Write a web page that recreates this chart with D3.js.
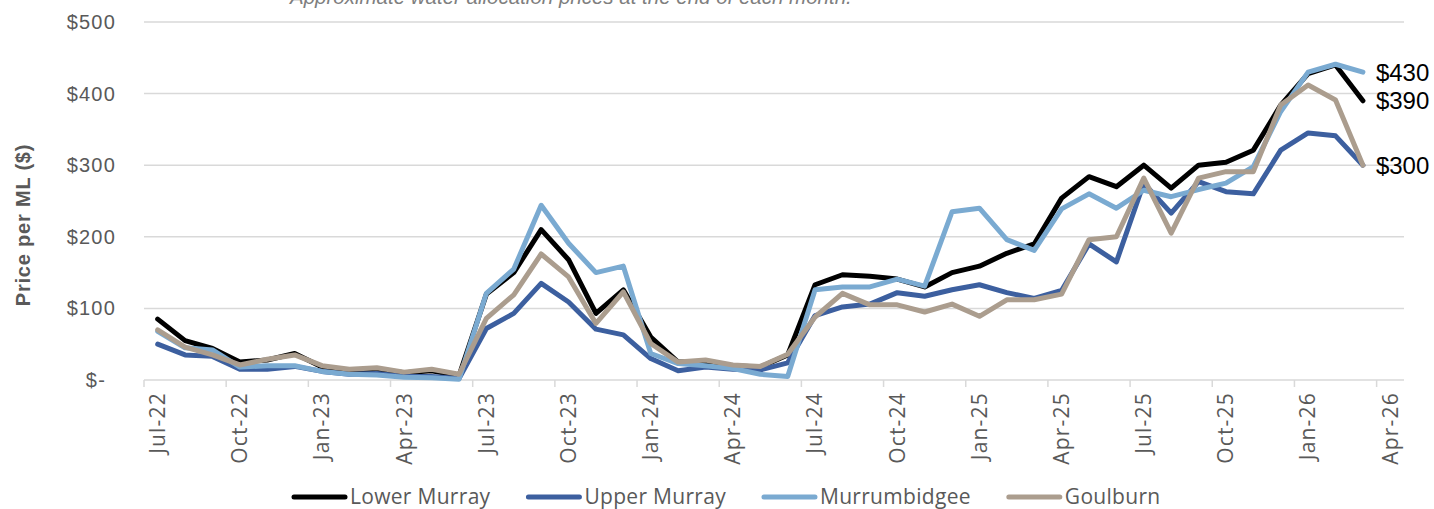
<!DOCTYPE html>
<html>
<head>
<meta charset="utf-8">
<script src="https://cdnjs.cloudflare.com/ajax/libs/d3/7.8.5/d3.min.js"></script>
<style>
  body { margin: 0; background: #fff; }
  svg { display: block; }
</style>
</head>
<body>
<div id="chart"></div>
<script>
var months = ["Jul-22","Aug-22","Sep-22","Oct-22","Nov-22","Dec-22",
  "Jan-23","Feb-23","Mar-23","Apr-23","May-23","Jun-23",
  "Jul-23","Aug-23","Sep-23","Oct-23","Nov-23","Dec-23",
  "Jan-24","Feb-24","Mar-24","Apr-24","May-24","Jun-24",
  "Jul-24","Aug-24","Sep-24","Oct-24","Nov-24","Dec-24",
  "Jan-25","Feb-25","Mar-25","Apr-25","May-25","Jun-25",
  "Jul-25","Aug-25","Sep-25","Oct-25","Nov-25","Dec-25",
  "Jan-26","Feb-26","Mar-26","Apr-26"];

var tickLabels = ["Jul-22","Oct-22","Jan-23","Apr-23","Jul-23","Oct-23","Jan-24","Apr-24",
  "Jul-24","Oct-24","Jan-25","Apr-25","Jul-25","Oct-25","Jan-26","Apr-26"];

var yTicks = [0, 100, 200, 300, 400, 500];

var seriesNames = ["Lower Murray", "Upper Murray", "Murrumbidgee", "Goulburn"];

var lowerMurray = [85,55,44,25,28,37, 18,14,15,10,13,6, 120,150,210,168,93,126,
  60,25,25,20,18,35, 133,147,145,141,130,150, 159,177,190,254,284,270,
  300,268,300,304,321,384, 428,440,390];
var upperMurray = [50,35,33,15,15,19, 12,8,9,5,5,2, 72,93,135,109,71,63,
  30,13,18,15,14,24, 90,102,106,122,117,126, 133,122,114,125,190,165,
  275,233,277,263,260,321, 345,341,300];
var murrumbidgee = [68,45,42,18,20,20, 12,8,7,4,3,1, 121,155,244,191,150,159,
  37,23,20,16,8,5, 126,130,130,141,131,235, 240,196,181,239,260,240,
  265,256,266,275,298,375, 430,441,430];
var goulburn = [70,46,35,21,29,35, 20,15,17,11,15,8, 86,119,176,144,79,123,
  51,25,28,21,19,36, 88,121,105,105,95,106, 89,112,112,120,196,200,
  282,205,282,291,291,384, 412,391,300];

// which series get a value label at the end of the line
var endLabels = ["Murrumbidgee", "Lower Murray", "Goulburn"];

var colors = ["#000000", "#3c5f9f", "#7aaad1", "#ab9d8e"];

var width = 1434, height = 509;
var margin = {top: 22, right: 30, bottom: 129, left: 144};

var series = seriesNames.map(function(name, i) {
  return {name: name, color: colors[i],
          values: [lowerMurray, upperMurray, murrumbidgee, goulburn][i]};
});

var svg = d3.select("#chart").append("svg")
    .attr("width", width)
    .attr("height", height);

var x = d3.scaleBand()
    .domain(months)
    .range([margin.left, width - margin.right])
    .padding(0);

var y = d3.scaleLinear()
    .domain([0, 500])
    .range([height - margin.bottom, margin.top]);

var cx = function(m) { return x(m) + x.bandwidth() / 2; };

// subtitle, mostly cut off by the top edge
svg.append("text")
    .attr("x", 290)
    .attr("y", 4)
    .attr("font-family", "Liberation Sans, Arial, sans-serif")
    .attr("font-style", "italic")
    .attr("font-size", 20.5)
    .attr("fill", "#7f7f7f")
    .text("Approximate water allocation prices at the end of each month.");

// gridlines
svg.append("g")
    .selectAll("line")
    .data(yTicks.filter(function(d) { return d > 0; }))
    .enter().append("line")
    .attr("x1", margin.left)
    .attr("x2", width - margin.right)
    .attr("y1", function(d) { return y(d); })
    .attr("y2", function(d) { return y(d); })
    .attr("stroke", "#d9d9d9")
    .attr("stroke-width", 1.5);

// y axis labels
var yAxis = svg.append("g")
    .attr("transform", "translate(" + margin.left + ",0)")
    .call(d3.axisLeft(y)
        .tickValues(yTicks)
        .tickSize(0)
        .tickPadding(28)
        .tickFormat(function(d) { return d === 0 ? "$-" : "$" + d; }));
yAxis.select(".domain").remove();
yAxis.selectAll("text")
    .attr("font-family", "Liberation Sans, Arial, sans-serif")
    .attr("font-size", 20)
    .attr("letter-spacing", 1.2)
    .attr("fill", "#595959")
    .attr("dx", function(d) { return d === 0 ? -10 : 0; });

// y title
svg.append("text")
    .attr("transform", "translate(30,225) rotate(-90)")
    .attr("text-anchor", "middle")
    .attr("font-family", "Liberation Sans, Arial, sans-serif")
    .attr("font-weight", "bold")
    .attr("font-size", 20)
    .attr("letter-spacing", 0.8)
    .attr("fill", "#595959")
    .text("Price per ML ($)");

// x axis line and ticks
var xg = svg.append("g");
xg.append("line")
    .attr("x1", margin.left)
    .attr("x2", width - margin.right)
    .attr("y1", y(0))
    .attr("y2", y(0))
    .attr("stroke", "#d9d9d9")
    .attr("stroke-width", 1.5);
xg.selectAll("line.tick")
    .data(tickLabels)
    .enter().append("line")
    .attr("class", "tick")
    .attr("x1", function(d) { return x(d); })
    .attr("x2", function(d) { return x(d); })
    .attr("y1", y(0))
    .attr("y2", y(0) + 7)
    .attr("stroke", "#d9d9d9")
    .attr("stroke-width", 1.5);
xg.selectAll("text")
    .data(tickLabels)
    .enter().append("text")
    .attr("transform", function(d) { return "translate(" + cx(d) + "," + (y(0) + 12) + ") rotate(-90)"; })
    .attr("text-anchor", "end")
    .attr("dy", "0.35em")
    .attr("font-family", "Open Sans, sans-serif")
    .attr("font-size", 21)
    .attr("letter-spacing", 1.2)
    .attr("fill", "#595959")
    .text(function(d) { return d; });

// lines
var line = d3.line()
    .x(function(d, i) { return cx(months[i]); })
    .y(function(d) { return y(d); });

svg.append("g")
    .selectAll("path")
    .data(series)
    .enter().append("path")
    .attr("d", function(d) { return line(d.values); })
    .attr("fill", "none")
    .attr("stroke", function(d) { return d.color; })
    .attr("stroke-width", 5)
    .attr("stroke-linejoin", "round")
    .attr("stroke-linecap", "round");

// end labels
svg.append("g")
    .selectAll("text")
    .data(series.filter(function(s) { return endLabels.indexOf(s.name) >= 0; }))
    .enter().append("text")
    .attr("x", function(d) { return cx(months[d.values.length - 1]) + 13; })
    .attr("y", function(d) { return y(d.values[d.values.length - 1]); })
    .attr("dy", "0.35em")
    .attr("font-family", "Liberation Sans, Arial, sans-serif")
    .attr("font-size", 24)
    .attr("fill", "#000")
    .text(function(d) { return "$" + d.values[d.values.length - 1]; });

// legend
var legend = svg.append("g").attr("transform", "translate(0,497)");
var lx = 292;
series.forEach(function(s) {
  legend.append("line")
      .attr("x1", lx + 2).attr("x2", lx + 53)
      .attr("y1", 0).attr("y2", 0)
      .attr("stroke", s.color)
      .attr("stroke-width", 5)
      .attr("stroke-linecap", "round");
  var t = legend.append("text")
      .attr("x", lx + 58)
      .attr("dy", "0.35em")
      .attr("font-family", "Open Sans, sans-serif")
      .attr("font-size", 21)
      .attr("letter-spacing", 0.3)
      .attr("fill", "#595959")
      .text(s.name);
  lx = lx + 58 + t.node().getComputedTextLength() + 36;
});
</script>
</body>
</html>
